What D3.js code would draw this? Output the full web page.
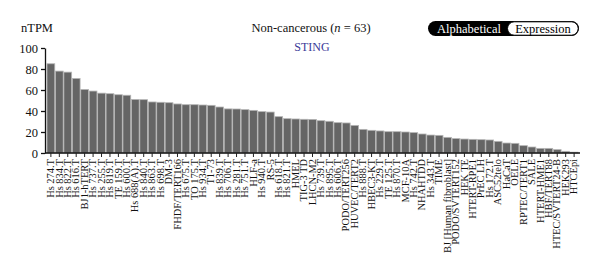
<!DOCTYPE html>
<html>
<head>
<meta charset="utf-8">
<script src="https://cdn.jsdelivr.net/npm/d3@7"></script>
<style>
  body { margin: 0; background: #fff; }
  svg text { font-family: "Liberation Serif", "DejaVu Serif", serif !important; }
</style>
</head>
<body>
<div class="rowChart"></div>
<script>
// cell lines, sorted by expression
const categories = [
  "Hs 274.T", "Hs 834.T", "Hs 822.T", "Hs 616.T", "BJ1-hTERT", "Hs 737.T", "Hs 255.T",
  "Hs 819.T", "TE 159.T", "Hs 600.T", "Hs 688(A).T", "Hs 840.T", "Hs 863.T", "Hs 698.T",
  "DM-3", "FHDF/TERT166", "Hs 675.T", "TO 175.T", "Hs 934.T", "T1-73", "Hs 839.T",
  "Hs 706.T", "Hs 281.T", "Hs 751.T", "HLF-a", "Hs 940.T", "RS-5", "Hs 618.T", "Hs 821.T",
  "HMEL", "TIG-3 TD", "LHCN-M2", "Hs 739.T", "Hs 895.T", "Hs 606.T", "PODO/TERT256",
  "HUVEC/TERT2", "Hs 888.T", "HBEC3-KT", "Hs 229.T", "TE 125.T", "Hs 870.T", "MCF-10A",
  "Hs 742.T", "NHAHTDD", "Hs 343.T", "TIME", "BJ [Human fibroblast]", "PODO/SVTERT152",
  "HEK TE", "HTERT-RPE1", "PrEC LH", "Hs 172.T", "ASC52telo", "HaCaT", "OELE",
  "RPTEC/TERT1", "SALE", "HTERT-HME1", "HBF/TERT88", "HTEC/SVTERT24-B", "HEK293", "HTCEpi"
];

// nTPM
const values = [
  85, 78, 77, 71, 60.5, 59, 57, 56.5, 55.5, 55, 51, 50.8, 48.6, 48.3,
  47.9, 46.7, 46, 46, 45.7, 45.4, 43.8, 42, 41.9, 41.3, 40.6, 39.4, 39, 34.6, 32.7,
  32.4, 32.1, 32, 30.8, 30.2, 28.9, 28.6, 26.3, 22.5, 21.6, 21, 20.3, 20.3, 20,
  19.4, 18.1, 17.1, 16.8, 14.9, 13.7, 13.3, 13, 12.7, 12.4, 11.1, 9.5, 9.2,
  7, 5.7, 4.4, 4.4, 3.2, 1.6, 0.8
];

const yTicks = [0, 20, 40, 60, 80, 100];

const data = categories.map((name, i) => ({ name: name, value: values[i] }));

const W = 600, H = 274;
const margin = { top: 48, right: 20, bottom: 121, left: 45 };
const serif = "Liberation Serif";

const svg = d3.select(".rowChart")
  .append("svg")
  .attr("width", W)
  .attr("height", H)
  .attr("font-family", serif);

const y = d3.scaleLinear().domain([0, 100]).range([H - margin.bottom, margin.top]);
const x = d3.scaleBand()
  .domain(categories)
  .range([margin.left + 2, W - margin.right - 2])
  .paddingInner(0.08);

// bars
svg.append("g")
  .selectAll("rect")
  .data(data)
  .enter()
  .append("rect")
  .attr("x", d => x(d.name))
  .attr("width", x.bandwidth())
  .attr("y", d => y(d.value))
  .attr("height", d => y(0) - y(d.value))
  .attr("fill", "#656565")
  .attr("stroke", "#b5b5b5")
  .attr("stroke-width", 0.8);

// y axis
const yAxis = svg.append("g")
  .attr("transform", "translate(" + margin.left + ",0)")
  .call(d3.axisLeft(y).tickValues(yTicks).tickSize(4).tickSizeOuter(0).tickPadding(3));
yAxis.attr("font-family", serif).attr("font-size", 12.5);
yAxis.selectAll("text").attr("fill", "#111");
yAxis.selectAll("line, path").attr("stroke", "#111").attr("stroke-width", 1.3);

// x axis line and ticks
const xAxis = svg.append("g")
  .attr("transform", "translate(0," + y(0) + ")");
xAxis.append("line")
  .attr("x1", margin.left).attr("x2", W - margin.right)
  .attr("stroke", "#111").attr("stroke-width", 1.6);
xAxis.selectAll(".tick")
  .data(categories)
  .enter()
  .append("line")
  .attr("class", "tick")
  .attr("x1", d => x(d) + x.bandwidth() / 2)
  .attr("x2", d => x(d) + x.bandwidth() / 2)
  .attr("y1", 0).attr("y2", 4)
  .attr("stroke", "#222").attr("stroke-width", 1);

// x labels, rotated
svg.append("g")
  .selectAll("text")
  .data(categories)
  .enter()
  .append("text")
  .attr("transform", d =>
    "translate(" + (x(d) + x.bandwidth() / 2 + 3.2) + "," + (y(0) + 6) + ") rotate(-90) scale(1.1,1)")
  .attr("text-anchor", "end")
  .attr("font-size", 9.5)
  .attr("fill", "#111")
  .text(d => d);

// header texts
svg.append("text")
  .attr("x", 21).attr("y", 32)
  .attr("font-size", 12.5)
  .attr("fill", "#111")
  .text("nTPM");

const title = svg.append("text")
  .attr("x", 311).attr("y", 32)
  .attr("text-anchor", "middle")
  .attr("font-size", 12.5)
  .attr("fill", "#111");
title.append("tspan").text("Non-cancerous (");
title.append("tspan").attr("font-style", "italic").text("n");
title.append("tspan").text(" = 63)");

svg.append("text")
  .attr("x", 312).attr("y", 51)
  .attr("text-anchor", "middle")
  .attr("font-size", 12)
  .attr("fill", "#3b3b98")
  .text("STING");

// toggle buttons
const toggle = svg.append("g");
toggle.append("rect")
  .attr("x", 428).attr("y", 21).attr("width", 151).attr("height", 15)
  .attr("rx", 7.5).attr("fill", "#000");
toggle.append("rect")
  .attr("x", 507.5).attr("y", 21.8).attr("width", 70.7).attr("height", 13.4)
  .attr("rx", 6.7).attr("fill", "#fff").attr("stroke", "#000").attr("stroke-width", 1);
toggle.append("text")
  .attr("x", 469).attr("y", 32.5)
  .attr("text-anchor", "middle").attr("font-size", 12.5).attr("fill", "#fff")
  .text("Alphabetical");
toggle.append("text")
  .attr("x", 543).attr("y", 32.5)
  .attr("text-anchor", "middle").attr("font-size", 12.5).attr("fill", "#000")
  .text("Expression");
</script>
</body>
</html>
